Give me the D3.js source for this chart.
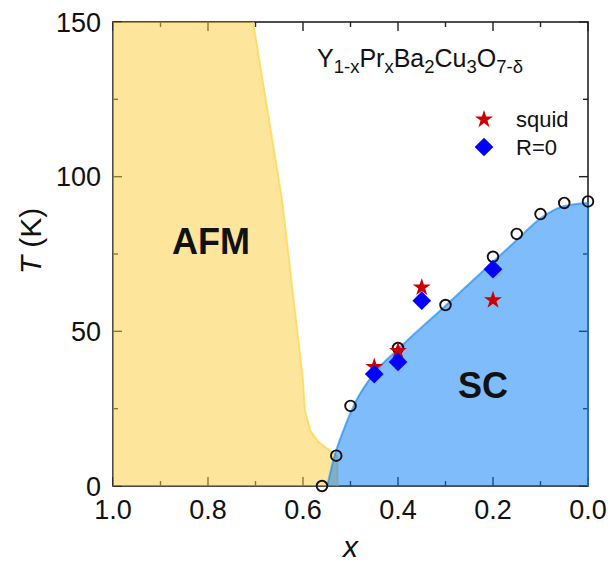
<!DOCTYPE html>
<html>
<head>
<meta charset="utf-8">
<script src="https://cdn.jsdelivr.net/npm/d3@7"></script>
<style>
  body { margin: 0; background: #fff; }
  svg text { font-family: "Liberation Sans", Arial, sans-serif; fill: #111; }
</style>
</head>
<body>
<div id="chart"></div>
<script>
'use strict';

// AFM boundary (x, T), from the top of the frame down to T = 0
var afmX = [0.705, 0.644, 0.600, 0.596, 0.585, 0.568, 0.550, 0.528, 0.527];
var afmT = [150, 92.5, 34.3, 24.6, 18.1, 14.3, 12.2, 9.7, 0];

// SC dome edge (x, T)
var scX = [0.549, 0.535, 0.515, 0.49, 0.45, 0.40, 0.30, 0.20, 0.15, 0.10, 0.05, 0.0];
var scT = [0, 9, 18, 27, 36.5, 44.2, 58.3, 72.5, 79.5, 86.5, 90.5, 91.5];

// open circles
var circX = [0.56, 0.53, 0.50, 0.40, 0.30, 0.20, 0.15, 0.10, 0.05, 0.0];
var circT = [0, 9.8, 25.9, 44.6, 58.5, 74.1, 81.5, 87.9, 91.5, 92];

// squid (stars)
var squidX = [0.45, 0.40, 0.35, 0.20];
var squidT = [38.5, 43.7, 64.2, 60.1];

// R=0 (diamonds)
var r0X = [0.45, 0.40, 0.35, 0.20];
var r0T = [36.2, 40.1, 59.9, 70.1];

var xTicks = [1.0, 0.8, 0.6, 0.4, 0.2, 0.0];
var yTicks = [0, 50, 100, 150];

var width = 609, height = 563;
var pLeft = 113, pRight = 588, pTop = 22, pBottom = 486;

var x = d3.scaleLinear().domain([1, 0]).range([pLeft, pRight]);
var y = d3.scaleLinear().domain([0, 150]).range([pBottom, pTop]);

var svg = d3.select("#chart").append("svg")
            .attr("width", width)
            .attr("height", height);

// frame + ticks
var frame = svg.append("g");
frame.append("rect")
     .attr("x", pLeft).attr("y", pTop)
     .attr("width", pRight - pLeft).attr("height", pBottom - pTop)
     .attr("fill", "none")
     .attr("stroke", "#222")
     .attr("stroke-width", 1.6);

var xMinor = d3.range(0, 1.01, 0.1);
var yMinor = d3.range(0, 151, 25);

function isMajorX(v) { return Math.abs(v * 5 - Math.round(v * 5)) < 1e-6; }
function isMajorY(v) { return v % 50 === 0; }

xMinor.forEach(v => {
    var len = isMajorX(v) ? 9 : 5;
    frame.append("line").attr("x1", x(v)).attr("x2", x(v))
         .attr("y1", pBottom).attr("y2", pBottom - len)
         .attr("stroke", "#222").attr("stroke-width", 1.4);
    frame.append("line").attr("x1", x(v)).attr("x2", x(v))
         .attr("y1", pTop).attr("y2", pTop + len)
         .attr("stroke", "#222").attr("stroke-width", 1.4);
});
yMinor.forEach(v => {
    var len = isMajorY(v) ? 9 : 5;
    frame.append("line").attr("y1", y(v)).attr("y2", y(v))
         .attr("x1", pLeft).attr("x2", pLeft + len)
         .attr("stroke", "#222").attr("stroke-width", 1.4);
    frame.append("line").attr("y1", y(v)).attr("y2", y(v))
         .attr("x1", pRight).attr("x2", pRight - len)
         .attr("stroke", "#222").attr("stroke-width", 1.4);
});

// tick labels
svg.append("g").selectAll("text")
   .data(xTicks)
   .enter().append("text")
   .attr("x", d => x(d))
   .attr("y", 519)
   .attr("text-anchor", "middle")
   .attr("font-size", 27)
   .text(d => d.toFixed(1));

svg.append("g").selectAll("text")
   .data(yTicks)
   .enter().append("text")
   .attr("x", 101)
   .attr("y", d => y(d) + 9.5)
   .attr("text-anchor", "end")
   .attr("font-size", 27)
   .text(d => d);

// axis titles
svg.append("text")
   .attr("transform", "translate(41," + 241 + ") rotate(-90)")
   .attr("text-anchor", "middle")
   .attr("font-size", 30)
   .html('<tspan font-style="italic">T</tspan> (K)');

svg.append("text")
   .attr("x", (pLeft + pRight) / 2)
   .attr("y", 557)
   .attr("text-anchor", "middle")
   .attr("font-size", 30)
   .attr("font-style", "italic")
   .text("x");

// AFM region
var afmPts = afmX.map((v, i) => [x(v), y(afmT[i])]);
var afmPath = "M" + x(1) + "," + y(150) + "L" + afmPts.map(p => p.join(",")).join("L")
            + "L" + x(1) + "," + y(0) + "Z";
svg.append("path")
   .attr("d", afmPath)
   .attr("fill", "rgba(252,205,55,0.5)")
   .attr("stroke", "none");
svg.append("path")
   .attr("d", d3.line()(afmPts))
   .attr("fill", "none")
   .attr("stroke", "rgba(253,212,70,0.75)")
   .attr("stroke-width", 1.8);

// SC region
var scPts = scX.map((v, i) => [x(v), y(scT[i])]);
var scLine = d3.line().curve(d3.curveMonotoneX);
var scEdge = scLine(scPts);
svg.append("path")
   .attr("d", scEdge + "L" + x(0) + "," + y(0) + "Z")
   .attr("fill", "rgba(0,122,247,0.5)")
   .attr("stroke", "none");
svg.append("path")
   .attr("d", scEdge + "L" + x(0) + "," + y(0))
   .attr("fill", "none")
   .attr("stroke", "rgba(20,130,240,0.6)")
   .attr("stroke-width", 2);

// region labels
svg.append("text")
   .attr("x", 211).attr("y", 254)
   .attr("text-anchor", "middle")
   .attr("font-size", 36)
   .attr("font-weight", "bold")
   .text("AFM");
svg.append("text")
   .attr("x", 483).attr("y", 398)
   .attr("text-anchor", "middle")
   .attr("font-size", 36)
   .attr("font-weight", "bold")
   .text("SC");

// markers
var circData = circX.map((v, i) => ({x: v, t: circT[i]}));
var squidData = squidX.map((v, i) => ({x: v, t: squidT[i]}));
var r0Data = r0X.map((v, i) => ({x: v, t: r0T[i]}));

svg.append("g").selectAll("circle")
   .data(circData)
   .enter().append("circle")
   .attr("cx", d => x(d.x))
   .attr("cy", d => y(d.t))
   .attr("r", 5.3)
   .attr("fill", "none")
   .attr("stroke", "#111")
   .attr("stroke-width", 1.9);

var star = d3.symbol().type(d3.symbolStar).size(100);
var diamond = d3.symbol().type(d3.symbolSquare).size(175);

svg.append("g").selectAll("path")
   .data(squidData)
   .enter().append("path")
   .attr("d", star)
   .attr("transform", d => "translate(" + x(d.x) + "," + y(d.t) + ")")
   .attr("fill", "#cc0000");

svg.append("g").selectAll("path")
   .data(r0Data)
   .enter().append("path")
   .attr("d", diamond)
   .attr("transform", d => "translate(" + x(d.x) + "," + y(d.t) + ") rotate(45)")
   .attr("fill", "#0000ff");

// formula
var formula = svg.append("text")
   .attr("x", 317).attr("y", 67)
   .attr("font-size", 25);
var parts = [["Y", 0], ["1-x", 1], ["Pr", 0], ["x", 1], ["Ba", 0], ["2", 1],
             ["Cu", 0], ["3", 1], ["O", 0], ["7-δ", 1]];
var prevSub = false;
parts.forEach(p => {
    var ts = formula.append("tspan").text(p[0]);
    if (p[1] && !prevSub) ts.attr("dy", 6).attr("font-size", 18.5);
    else if (p[1]) ts.attr("font-size", 18.5);
    else if (prevSub) ts.attr("dy", -6);
    prevSub = !!p[1];
});

// legend
svg.append("path")
   .attr("d", star)
   .attr("transform", "translate(484,119.5)")
   .attr("fill", "#cc0000");
svg.append("text")
   .attr("x", 516).attr("y", 127)
   .attr("font-size", 22)
   .text("squid");
svg.append("path")
   .attr("d", diamond)
   .attr("transform", "translate(484,147) rotate(45)")
   .attr("fill", "#0000ff");
svg.append("text")
   .attr("x", 516).attr("y", 155)
   .attr("font-size", 22)
   .text("R=0");
</script>
</body>
</html>
